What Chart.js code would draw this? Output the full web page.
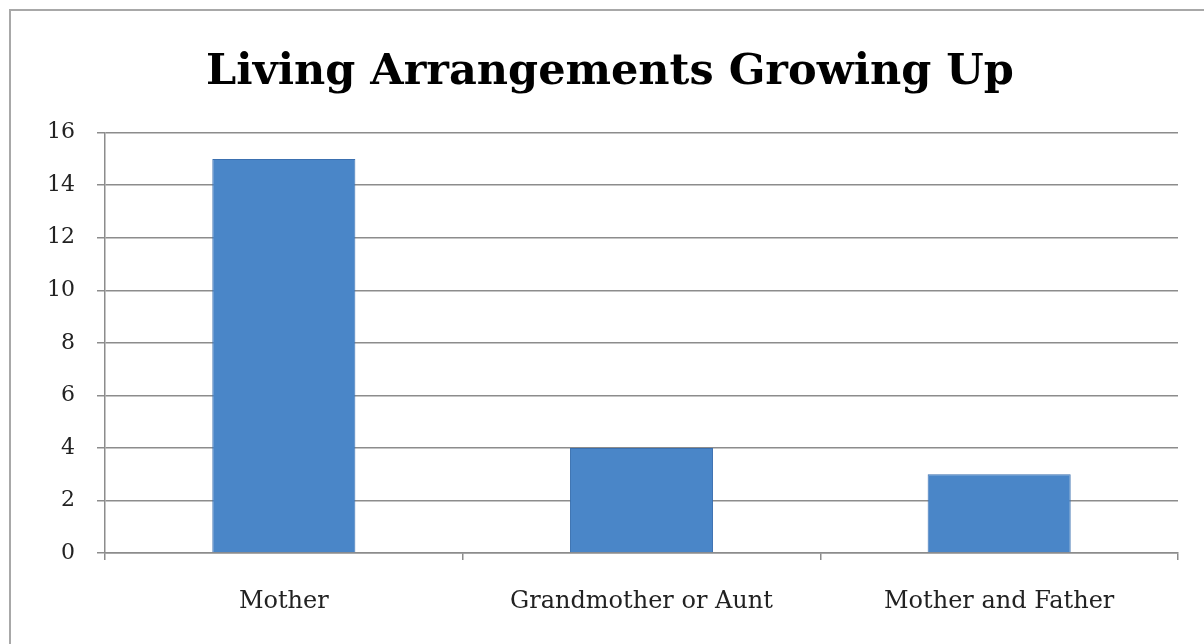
<!DOCTYPE html>
<html>
<head>
<meta charset="utf-8">
<script src="https://cdn.jsdelivr.net/npm/chart.js@4/dist/chart.umd.min.js"></script>
<style>
  html, body { margin: 0; padding: 0; background: #fff; }
  #wrap { position: relative; width: 1204px; height: 644px; overflow: hidden; }
  #frame { position: absolute; left: 9px; top: 9px; width: 1220px; height: 660px; border: 2px solid #a8a8a8; box-sizing: border-box; }
  canvas { position: absolute; left: 0; top: 0; }
</style>
</head>
<body>
<div id="wrap">
  <div id="frame"></div>
  <canvas id="grafico" width="1204" height="644"></canvas>
</div>
<script>
const titulo = "Living Arrangements Growing Up";
const categorias = ["Mother", "Grandmother or Aunt", "Mother and Father"];
const valores = [15, 4, 3];
const yMin = 0;
const yMax = 16;
const yPasso = 2;

const fonte = "'DejaVu Serif', 'Liberation Serif', serif";

// gradiente horizontal parecido com o estilo do Office
function corBarra(ctx) {
  const el = ctx.element;
  if (!el || el.width === undefined || !isFinite(el.x)) return "#4a86c8";
  const x0 = el.x - el.width / 2;
  const x1 = el.x + el.width / 2;
  if (!isFinite(x0) || !isFinite(x1) || x1 <= x0) return "#4a86c8";
  const g = ctx.chart.ctx.createLinearGradient(x0, 0, x1, 0);
  g.addColorStop(0, "#427fc6");
  g.addColorStop(0.5, "#5495d9");
  g.addColorStop(1, "#427fc6");
  return g;
}

new Chart(document.getElementById("grafico"), {
  type: "bar",
  data: {
    labels: categorias,
    datasets: [{
      data: valores,
      backgroundColor: corBarra,
      borderColor: "#3b70b0",
      borderWidth: 1,
      barPercentage: 0.4,
      categoryPercentage: 1
    }]
  },
  options: {
    responsive: false,
    animation: false,
    layout: { padding: { left: 42, right: 26, top: 0, bottom: 0 } },
    plugins: {
      legend: { display: false },
      tooltip: { enabled: false },
      title: {
        display: true,
        text: titulo,
        color: "#000",
        font: { family: fonte, size: 43, weight: "bold", lineHeight: 1.2 },
        padding: { top: 47, bottom: 34 }
      }
    },
    scales: {
      x: {
        grid: {
          display: true,
          drawOnChartArea: false,
          drawTicks: true,
          tickLength: 7,
          color: "#8c8c8c",
          lineWidth: 1.5
        },
        border: { color: "#8c8c8c", width: 1.5 },
        ticks: {
          color: "#222",
          font: { family: fonte, size: 24 },
          padding: 27
        },
        afterFit: (s) => { s.height = 91; }
      },
      y: {
        min: yMin,
        max: yMax,
        ticks: {
          stepSize: yPasso,
          color: "#222",
          font: { family: fonte, size: 22 },
          padding: 22
        },
        grid: {
          color: "#8c8c8c",
          lineWidth: 1.5,
          tickLength: 8
        },
        border: { color: "#8c8c8c", width: 1.5 },
        afterFit: (s) => { s.width = 63; }
      }
    }
  }
});
</script>
</body>
</html>
